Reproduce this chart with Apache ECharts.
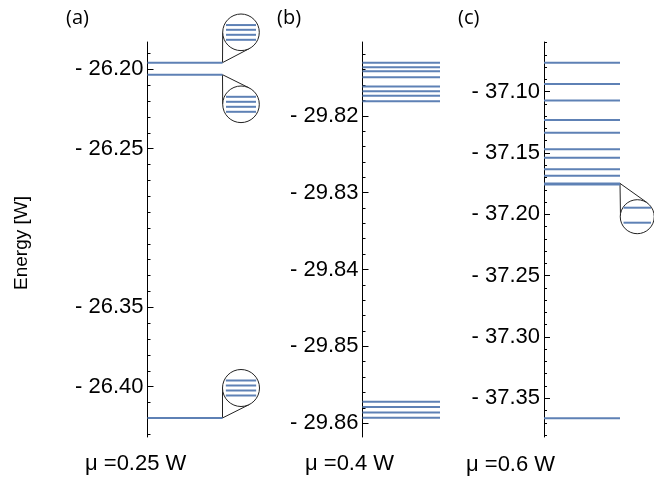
<!DOCTYPE html>
<html><head><meta charset="utf-8">
<script src="https://cdn.jsdelivr.net/npm/echarts@6/dist/echarts.min.js"></script>
<style>html,body{margin:0;padding:0;background:#fff}#c{width:654px;height:477px}</style>
</head><body><div id="c"></div>
<script>
// ---------- data ----------
const levelsA = [-26.1958, -26.2034, -26.4197];
const levelsB = [-29.8131, -29.8137, -29.8142, -29.8150, -29.8162, -29.8168, -29.8174, -29.8181,
                 -29.8572, -29.8579, -29.8586, -29.8593];
const levelsC = [-37.0764, -37.0937, -37.1073, -37.1231, -37.1334, -37.1470, -37.1538, -37.1633,
                 -37.1685, -37.1748, -37.1758, -37.3663];
const ticksA = [-26.20, -26.25, -26.35, -26.40];
const ticksB = [-29.82, -29.83, -29.84, -29.85, -29.86];
const ticksC = [-37.10, -37.15, -37.20, -37.25, -37.30, -37.35];
const panelLabels = ['(a)', '(b)', '(c)'];
const muLabels = ['\u03bc =0.25 W', '\u03bc =0.4 W', '\u03bc =0.6 W'];
const axisTitle = 'Energy [W]';
// zoomed sub-levels shown inside the circular insets (arbitrary zoomed units)
const insetA1 = [1.45, 0.5, -0.5, -1.5];
const insetA2 = [1.5, 0.5, -0.5, -1.5];
const insetA3 = [1.5, 0.5, -0.5, -1.5];
const insetC1 = [1.8, -1.2];

// ---------- layout / style ----------
const BLUE = '#5e81b5';
const FONT = 'Liberation Sans';
function minorList(hi, lo, step) {
  const out = [];
  const n = Math.round((hi - lo) / step);
  for (let k = 0; k <= n; k++) out.push(+(hi - k * step).toFixed(4));
  return out;
}
const panels = [
  {levels: levelsA, ticks: ticksA, minor: minorList(-26.18, -26.43, 0.01), min: -26.4317, max: -26.1828, left: 147.5, width: 75},
  {levels: levelsB, ticks: ticksB, minor: minorList(-29.810, -29.862, 0.002), min: -29.8618, max: -29.8104, left: 362.5, width: 77.5},
  {levels: levelsC, ticks: ticksC, minor: minorList(-37.06, -37.38, 0.01), min: -37.3816, max: -37.0595, left: 544, width: 76}
];
const insets = [
  {panel: 0, parent: levelsA[0], sub: insetA1, cx: 241, cy: 32.3, r: 18.3},
  {panel: 0, parent: levelsA[1], sub: insetA2, cx: 241, cy: 104.3, r: 18.3},
  {panel: 0, parent: levelsA[2], sub: insetA3, cx: 241, cy: 388, r: 18.5},
  {panel: 2, parent: levelsC[9], sub: insetC1, cx: 637.5, cy: 216.7, r: 17}
];
const TOP = 42, HEIGHT = 395;

const grid = [], xAxis = [], yAxis = [], series = [];
panels.forEach((p, i) => {
  grid.push({left: p.left, top: TOP, width: p.width, height: HEIGHT});
  xAxis.push({type: 'value', gridIndex: i, min: 0, max: 1, show: false});
  yAxis.push({
    type: 'value', gridIndex: i, min: p.min, max: p.max,
    axisLine: {show: true, onZero: false, lineStyle: {color: '#000', width: 1}},
    splitLine: {show: false},
    axisTick: {show: true, inside: true, length: 6, customValues: p.ticks, lineStyle: {color: '#000', width: 1}},
    axisLabel: {show: true, customValues: p.ticks, margin: 4, fontSize: 22, fontFamily: FONT, color: '#000',
      formatter: v => '- ' + Math.abs(v).toFixed(2)}
  });
  yAxis.push({
    type: 'value', gridIndex: i, min: p.min, max: p.max, position: 'left',
    axisLine: {show: false}, splitLine: {show: false}, axisLabel: {show: false},
    axisTick: {show: true, inside: true, length: 3, customValues: p.minor, lineStyle: {color: '#000', width: 1}}
  });
  series.push({
    type: 'custom', xAxisIndex: i, yAxisIndex: 2 * i, clip: false, z: 3,
    data: p.levels.map(v => [0, v]),
    renderItem: (params, api) => {
      const v = api.value(1);
      const a = api.coord([0, v]), b = api.coord([1, v]);
      return {type: 'line', shape: {x1: a[0], y1: a[1], x2: b[0], y2: b[1]},
        style: {stroke: BLUE, lineWidth: 2}};
    }
  });
});

// connectors from level end to inset circles
insets.forEach((ins, j) => {
  const pi = ins.panel;
  series.push({
    type: 'custom', xAxisIndex: pi, yAxisIndex: 2 * pi, clip: false, z: 2,
    data: [[1, ins.parent]],
    renderItem: (params, api) => {
      const P = api.coord([1, api.value(1)]);
      const dx = P[0] - ins.cx, dy = P[1] - ins.cy;
      const d = Math.sqrt(dx * dx + dy * dy);
      const th = Math.atan2(dy, dx), al = Math.acos(Math.min(1, ins.r / d));
      const ch = [];
      [th + al, th - al].forEach(t => {
        ch.push({type: 'line', shape: {x1: P[0], y1: P[1], x2: ins.cx + ins.r * Math.cos(t), y2: ins.cy + ins.r * Math.sin(t)},
          style: {stroke: '#222', lineWidth: 1}});
      });
      return {type: 'group', children: ch};
    }
  });
  // inset grid
  const gi = grid.length;
  grid.push({left: ins.cx - ins.r, top: ins.cy - ins.r, width: 2 * ins.r, height: 2 * ins.r});
  xAxis.push({type: 'value', gridIndex: gi, min: 0, max: 1, show: false});
  const yi = yAxis.length;
  yAxis.push({type: 'value', gridIndex: gi, min: -ins.r / 5, max: ins.r / 5, show: false});
  series.push({
    type: 'custom', xAxisIndex: gi, yAxisIndex: yi, clip: false, z: 4,
    data: [[0.5, 0]],
    renderItem: (params, api) => {
      const c = api.coord([0.5, 0]);
      return {type: 'circle', shape: {cx: c[0], cy: c[1], r: ins.r},
        style: {fill: '#fff', stroke: '#222', lineWidth: 1}};
    }
  });
  series.push({
    type: 'custom', xAxisIndex: gi, yAxisIndex: yi, clip: false, z: 5,
    data: ins.sub.map(v => [0, v]),
    renderItem: (params, api) => {
      const v = api.value(1);
      const a = api.coord([0.09, v]), b = api.coord([0.91, v]);
      return {type: 'line', shape: {x1: a[0], y1: a[1], x2: b[0], y2: b[1]},
        style: {stroke: BLUE, lineWidth: 2}};
    }
  });
});

const labelPos = [[66, 8], [277, 8], [458, 8]];
const muPos = [[85, 464], [305, 464], [466, 465]];
const graphic = [];
panelLabels.forEach((t, i) => graphic.push({type: 'text', x: labelPos[i][0], y: labelPos[i][1],
  style: {text: t, font: '20px "Open Sans"', fill: '#000'}}));
muLabels.forEach((t, i) => graphic.push({type: 'text', x: muPos[i][0], y: muPos[i][1],
  style: {text: t, font: '22px "Liberation Sans"', fill: '#000', textVerticalAlign: 'middle', verticalAlign: 'middle'}}));
graphic.push({type: 'text', x: 22, y: 243, rotation: Math.PI / 2,
  style: {text: axisTitle, font: '19px "Liberation Sans"', fill: '#000', align: 'center', verticalAlign: 'middle', textAlign: 'center', textVerticalAlign: 'middle'}});

const chart = echarts.init(document.getElementById('c'), null, {renderer: 'canvas'});
chart.setOption({animation: false, backgroundColor: '#fff', grid, xAxis, yAxis, series, graphic});
</script></body></html>
